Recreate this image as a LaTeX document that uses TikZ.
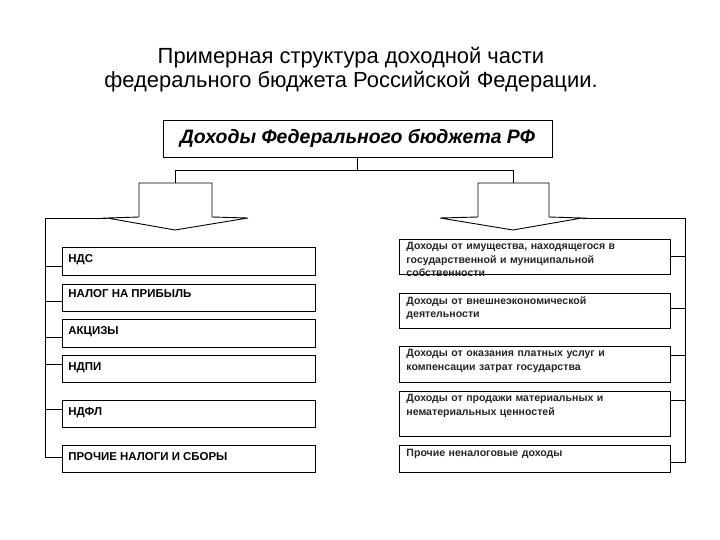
\documentclass[tikz,border=0pt]{standalone}
\usepackage{fontspec}
\setmainfont{Liberation Sans}
\begin{document}
\begin{tikzpicture}[x=1bp,y=-1bp,line width=0.9bp,
  box/.style={draw,fill=white,minimum height=#1,anchor=north west,inner sep=0pt},
  lbox/.style={box=#1,minimum width=253bp},
  rbox/.style={box=#1,minimum width=271bp},
  ltxt/.style={anchor=north west,inner sep=0pt,font=\fontsize{11.5}{13}\selectfont\bfseries,xshift=6bp,yshift=-7bp},
  rtxt/.style={anchor=north west,inner sep=0pt,align=left,text width=265bp,font=\fontsize{10.6}{13.5}\selectfont\bfseries,text=black!85,xshift=7bp,yshift=-3bp}]
\useasboundingbox (0,0) rectangle (720,540);
\node[align=center,font=\fontsize{22}{24}\selectfont] (title) at (351,70) {Примерная структура доходной части\\федерального бюджета Российской Федерации.};
\node[draw,minimum width=389bp,minimum height=37bp,inner sep=0pt,font=\fontsize{19.5}{22}\selectfont\bfseries\itshape] (main) at (357.5,138.5) {Доходы Федерального бюджета РФ};
% arrows
\draw (139,217)--(139,183)--(212,183)--(212,217)--(248,218)--(175,230)--(107,218)--(139,217);
\draw (478,217)--(478,183)--(549,183)--(549,217)--(582,218)--(513,230)--(440,218)--(478,217);
\coordinate (la) at (175.5,183); \coordinate (ra) at (513.5,183);
\coordinate (lw) at (107,218); \coordinate (rw) at (582,218);
\draw (main.south) -- ++(0,13) -| (la);
\draw (main.south) ++(0,13) -| (ra);
% left boxes
\node[lbox=28bp] (b1) at (62,247) {}; \node[ltxt] at (b1.north west) {НДС};
\node[lbox=27bp] (b2) at (62,284) {}; \node[ltxt,yshift=2bp] at (b2.north west) {НАЛОГ НА ПРИБЫЛЬ};
\node[lbox=28bp] (b3) at (62,319) {}; \node[ltxt] at (b3.north west) {АКЦИЗЫ};
\node[lbox=27bp] (b4) at (62,355) {}; \node[ltxt] at (b4.north west) {НДПИ};
\node[lbox=27bp] (b5) at (62,400) {}; \node[ltxt] at (b5.north west) {НДФЛ};
\node[lbox=27bp] (b6) at (62,445) {}; \node[ltxt] at (b6.north west) {ПРОЧИЕ НАЛОГИ И СБОРЫ};
\coordinate (lb) at (45,457);
\draw (lw) -- (45,218) -- (lb) -- (b6.west |- lb);
\foreach \n/\y in {b1/266,b2/301,b3/337,b4/364,b5/409}{\draw (45,\y) -- (\n.west |- 0,\y);}
% right boxes
\node[rbox=35bp] (r1) at (399,239) {}; \node[rtxt] at (r1.north west) {Доходы от имущества, находящегося в\\государственной и муниципальной\\собственности};
\node[rbox=35bp] (r2) at (399,293) {}; \node[rtxt] at (r2.north west) {Доходы от внешнеэкономической\\деятельности};
\node[rbox=36bp] (r3) at (399,346) {}; \node[rtxt] at (r3.north west) {Доходы от оказания платных услуг и\\компенсации затрат государства};
\node[rbox=45bp] (r4) at (399,391) {}; \node[rtxt] at (r4.north west) {Доходы от продажи материальных и\\нематериальных ценностей};
\node[rbox=27bp] (r5) at (399,445) {}; \node[rtxt,yshift=-1bp] at (r5.north west) {Прочие неналоговые доходы};
\coordinate (rb) at (685,462);
\draw (rw) -- (685,218) -- (rb) -- (r5.east |- rb);
\foreach \n/\y in {r1/256,r2/308,r3/355,r4/400}{\draw (685,\y) -- (\n.east |- 0,\y);}
\end{tikzpicture}
\end{document}
